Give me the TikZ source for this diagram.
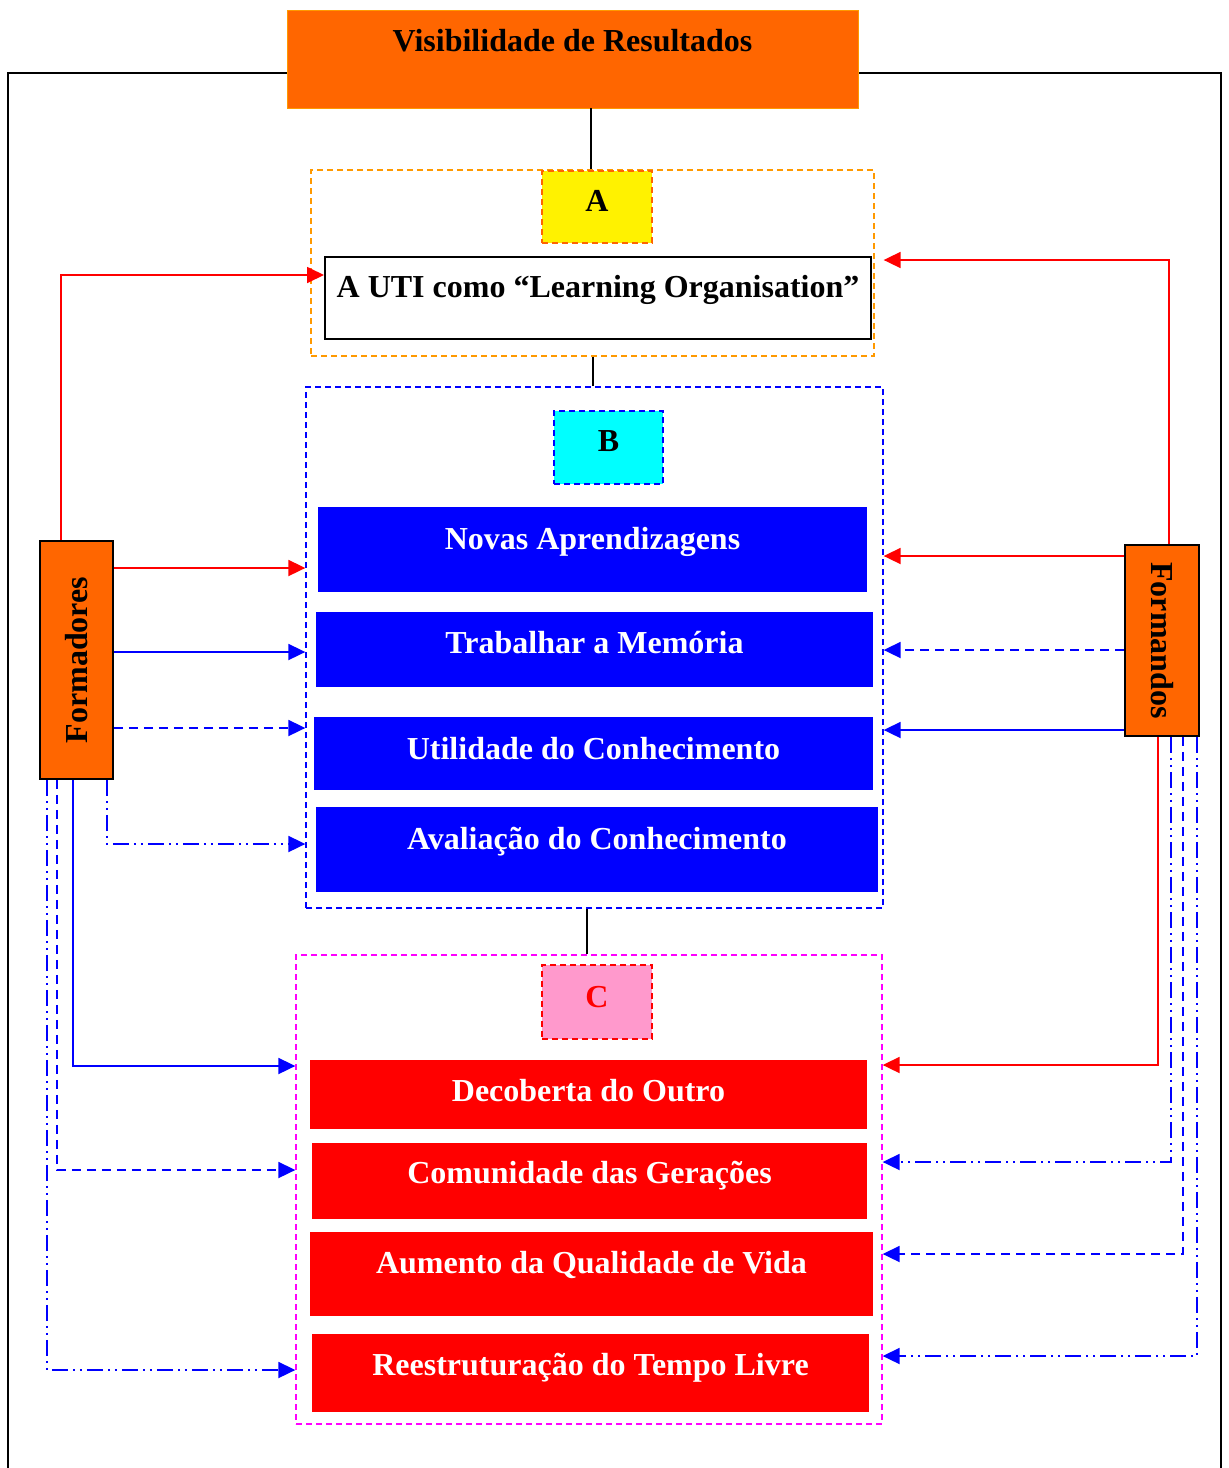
\documentclass[tikz,border=0pt]{standalone}
\usepackage{fontspec}
\setmainfont{Liberation Serif}
\usepackage{tikz}
\usetikzlibrary{arrows.meta, positioning, calc}
\definecolor{orangeBox}{HTML}{FF6600}
\definecolor{orangeDash}{HTML}{FF9900}
\definecolor{pinkBox}{HTML}{FF99CC}
\definecolor{cyanBox}{HTML}{00FFFF}
\definecolor{magentaDash}{HTML}{FF00FF}
\definecolor{pureBlue}{HTML}{0000FF}
\definecolor{pureRed}{HTML}{FF0000}
\tikzstyle{frame}=[rectangle, draw, inner sep=0pt, line width=1.3pt, dash pattern=on 6pt off 4pt]
\tikzstyle{box}=[rectangle, inner sep=0pt, font=\bfseries\fontsize{32}{36}\selectfont, text height=22pt]
\tikzstyle{blueBox}=[box, fill=pureBlue, text=white]
\tikzstyle{redBox}=[box, fill=pureRed, text=white]
\tikzstyle{labelBox}=[box, line width=1.3pt, dash pattern=on 6pt off 4pt]
\tikzstyle{actor}=[rectangle, draw, fill=orangeBox, line width=1.6pt, inner sep=0pt,
  font=\bfseries\fontsize{32}{36}\selectfont]
\tikzstyle{arrow}=[-{Triangle[length=17pt,width=16pt]}, line width=1.8pt]
\tikzstyle{redArrow}=[arrow, pureRed]
\tikzstyle{blueArrow}=[arrow, pureBlue]
\tikzstyle{dashArrow}=[arrow, pureBlue, dash pattern=on 9pt off 6pt]
\tikzstyle{dotArrow}=[arrow, pureBlue, dash pattern=on 16pt off 5pt on 2pt off 5pt on 2pt off 5pt]
\tikzstyle{line}=[line width=1.6pt]

\begin{document}
\begin{tikzpicture}[x=1pt, y=-1pt]
  \useasboundingbox (0,0) rectangle (1229,1468);

  % outer frame
  \draw[line] (8,1468) -- (8,73) -- (1221,73) -- (1221,1468);

  \node[box, fill=orangeBox, draw=orangeDash, thin, minimum width=571pt,
    minimum height=98pt, text depth=37pt] (vis) at (572.5,59) {Visibilidade de Resultados};

  % A
  \node[frame, draw=orangeDash, minimum width=563pt, minimum height=186pt] (frameA) at (592.5,263) {};
  \node[labelBox, fill=yellow, draw=orangeBox, minimum width=110pt, minimum height=72pt,
    text depth=13pt] (labelA) at (597,207) {A};
  \node[box, draw, line width=2pt, minimum width=546pt, minimum height=82pt,
    text depth=23pt] (uti) at (598,298) {A UTI como “Learning Organisation”};

  % B
  \node[frame, draw=pureBlue, minimum width=577pt, minimum height=521pt] (frameB) at (594.5,647.5) {};
  \node[labelBox, fill=cyanBox, draw=pureBlue, minimum width=109pt, minimum height=73pt,
    text depth=14pt] (labelB) at (608.5,447.5) {B};
  \node[blueBox, minimum width=549pt, minimum height=85pt, text depth=22pt] (novas) at (592.5,549.5) {Novas Aprendizagens};
  \node[blueBox, minimum width=557pt, minimum height=75pt, text depth=14pt] (memoria) at (594.5,649.5) {Trabalhar a Memória};
  \node[blueBox, minimum width=559pt, minimum height=73pt, text depth=10pt] (utilidade) at (593.5,753.5) {Utilidade do Conhecimento};
  \node[blueBox, minimum width=562pt, minimum height=85pt, text depth=22pt] (avaliacao) at (597,849.5) {Avaliação do Conhecimento};

  % C
  \node[frame, draw=magentaDash, minimum width=586pt, minimum height=469pt] (frameC) at (589,1189.5) {};
  \node[labelBox, fill=pinkBox, draw=pureRed, text=pureRed, minimum width=110pt, minimum height=74pt,
    text depth=11pt] (labelC) at (597,1002) {C};
  \node[redBox, minimum width=557pt, minimum height=69pt, text depth=8pt] (outro) at (588.5,1094.5) {Decoberta do Outro};
  \node[redBox, minimum width=555pt, minimum height=76pt, text depth=17pt] (geracoes) at (589.5,1181) {Comunidade das Gerações};
  \node[redBox, minimum width=563pt, minimum height=84pt, text depth=23pt] (vida) at (591.5,1274) {Aumento da Qualidade de Vida};
  \node[redBox, minimum width=557pt, minimum height=78pt, text depth=17pt] (tempo) at (590.5,1373) {Reestruturação do Tempo Livre};

  % actors
  \node[actor, rotate=90, minimum width=238pt, minimum height=73pt] (formadores) at (76.5,660) {Formadores};
  \node[actor, rotate=-90, minimum width=191pt, minimum height=74pt] (formandos) at (1162,640.5) {Formandos};

  % vertical links
  \draw[line] (vis.south -| 591,0) -- (frameA.north -| 591,0);
  \draw[line] (frameA.south -| 593,0) -- (frameB.north -| 593,0);
  \draw[line] (frameB.south -| 587,0) -- (frameC.north -| 587,0);

  % Formadores
  \draw[redArrow] (61,0 |- formadores.east) |- (uti.west |- 0,275);
  \draw[redArrow] (formadores.south |- 0,568) -- (frameB.west |- 0,568);
  \draw[blueArrow] (formadores.south |- 0,652) -- (frameB.west |- 0,652);
  \draw[dashArrow] (formadores.south |- 0,728) -- (frameB.west |- 0,728);
  \draw[dotArrow] (107,0 |- formadores.west) |- (frameB.west |- 0,844);
  \draw[blueArrow] (73,0 |- formadores.west) |- (frameC.west |- 0,1066);
  \draw[dashArrow] (57,0 |- formadores.west) |- (frameC.west |- 0,1170);
  \draw[dotArrow] (47,0 |- formadores.west) |- (frameC.west |- 0,1370);

  % Formandos
  \draw[redArrow] (1169,0 |- formandos.west) |- (frameB.east |- 0,260);
  \draw[redArrow] (formandos.south |- 0,556) -- (frameB.east |- 0,556);
  \draw[dashArrow] (formandos.south |- 0,650) -- (frameB.east |- 0,650);
  \draw[blueArrow] (formandos.south |- 0,730) -- (frameB.east |- 0,730);
  \draw[redArrow] (1158,0 |- formandos.east) |- (frameC.east |- 0,1065);
  \draw[dotArrow] (1171,0 |- formandos.east) |- (frameC.east |- 0,1162);
  \draw[dashArrow] (1183,0 |- formandos.east) |- (frameC.east |- 0,1254);
  \draw[dotArrow] (1197,0 |- formandos.east) |- (frameC.east |- 0,1356);
\end{tikzpicture}
\end{document}
